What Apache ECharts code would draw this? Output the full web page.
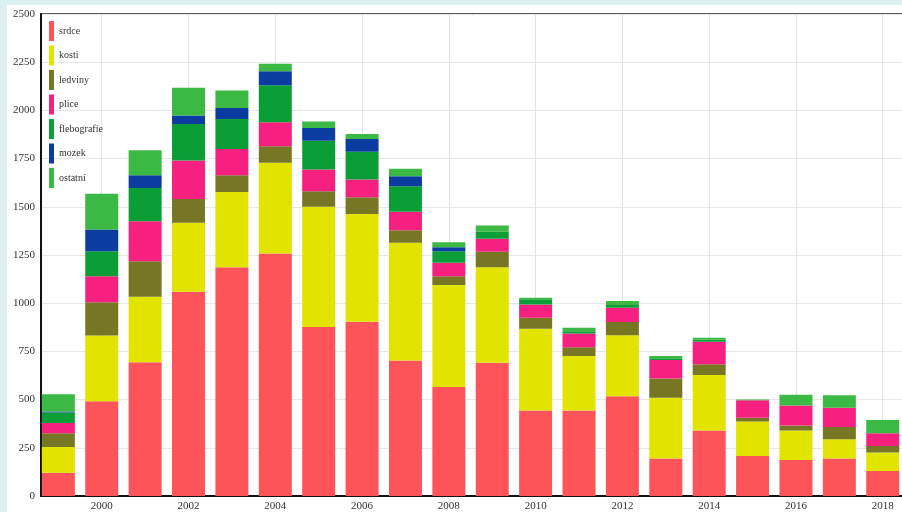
<!DOCTYPE html>
<html lang="cs">
<head>
<meta charset="utf-8">
<title>Vyšetření podle let</title>
<script src="https://cdn.jsdelivr.net/npm/echarts@6/dist/echarts.min.js"></script>
<style type="text/css">
html,body{ margin:0; padding:0; background:#dcf0f0; width:902px; height:512px; overflow:hidden;}
/* pravy okraj grafu je oriznuty oknem */
#chart{ position:absolute; left:7px; top:5px; width:899px; height:507px; background:#fff;}
</style>
</head>
<body>
<div id="chart"></div>
<script>
// roky a hodnoty
var years = [1999, 2000, 2001, 2002, 2003, 2004, 2005, 2006, 2007, 2008, 2009, 2010, 2011, 2012, 2013, 2014, 2015, 2016, 2017, 2018];
var tickYears = [2000, 2002, 2004, 2006, 2008, 2010, 2012, 2014, 2016, 2018];
var yTicks = [0, 250, 500, 750, 1000, 1250, 1500, 1750, 2000, 2250, 2500];

var srdce       = [121, 492, 694, 1059, 1187, 1258, 876, 904, 703, 565, 691, 444, 444, 518, 195, 340, 207, 187, 195, 130];
var kosti       = [133, 341, 339, 358, 390, 470, 624, 559, 610, 529, 496, 423, 282, 316, 315, 287, 179, 153, 99, 95];
var ledviny     = [71, 172, 185, 124, 87, 86, 81, 87, 66, 46, 80, 57, 46, 68, 100, 56, 20, 26, 64, 34];
var plice       = [53, 135, 207, 199, 136, 124, 112, 91, 95, 70, 67, 69, 71, 74, 95, 117, 90, 104, 100, 66];
var flebografie = [55, 130, 173, 190, 156, 192, 150, 144, 133, 60, 38, 28, 12, 15, 10, 10, 0, 0, 0, 0];
var mozek       = [5, 112, 66, 43, 57, 73, 66, 67, 51, 20, 0, 0, 0, 0, 0, 0, 0, 0, 0, 0];
var ostatni     = [90, 186, 129, 144, 90, 39, 34, 26, 39, 26, 31, 7, 18, 20, 11, 11, 5, 55, 64, 69];

var names  = ['srdce', 'kosti', 'ledviny', 'plice', 'flebografie', 'mozek', 'ostatní'];
var values = [srdce, kosti, ledviny, plice, flebografie, mozek, ostatni];
var colors = ['#fd5459', '#e3e300', '#767624', '#f5207f', '#0c9e36', '#0b3ca0', '#3cb944'];

var serif = '"Liberation Serif", "DejaVu Serif", serif';

// hodnota v prvnim sloupci => stack jde po ose y
var series = names.map(function(n, k){
  return {
    name: n,
    type: 'bar',
    stack: 'all',
    barWidth: 33,
    encode: { x: 1, y: 0 },
    itemStyle: { color: colors[k] },
    data: years.map(function(y, i){ return [values[k][i], y]; })
  };
});

var chart = echarts.init(document.getElementById('chart'));
chart.setOption({
  animation: false,
  textStyle: { fontFamily: serif },
  grid: {
    left: 34, top: 9, right: 2, bottom: 15,
    show: true, borderColor: '#5a5a5a', borderWidth: 2, backgroundColor: '#fff'
  },
  legend: {
    orient: 'vertical',
    left: 37, top: 11,
    icon: 'rect',
    itemWidth: 5, itemHeight: 20, itemGap: 4.5,
    textStyle: { fontFamily: serif, fontSize: 10, color: '#333' },
    data: names
  },
  xAxis: {
    type: 'value',
    min: 1998.6, max: 2018.49,
    axisLine: { show: true, lineStyle: { color: '#111', width: 2 } },
    axisTick: { show: false, customValues: tickYears },
    axisLabel: { customValues: tickYears, formatter: function(v){ return String(v); },
      fontFamily: serif, fontSize: 11, color: '#333', margin: 5 },
    splitLine: { show: true, lineStyle: { color: '#e2e2e2', width: 1 } }
  },
  yAxis: {
    type: 'value',
    min: yTicks[0], max: yTicks[yTicks.length - 1], interval: 250,
    axisLine: { show: true, lineStyle: { color: '#111', width: 2 } },
    axisTick: { show: false },
    axisLabel: { formatter: function(v){ return String(v); },
      fontFamily: serif, fontSize: 11, color: '#333', margin: 6 },
    splitLine: { show: true, lineStyle: { color: '#e6e6e6', width: 1 } }
  },
  series: series
});
</script>
</body>
</html>
